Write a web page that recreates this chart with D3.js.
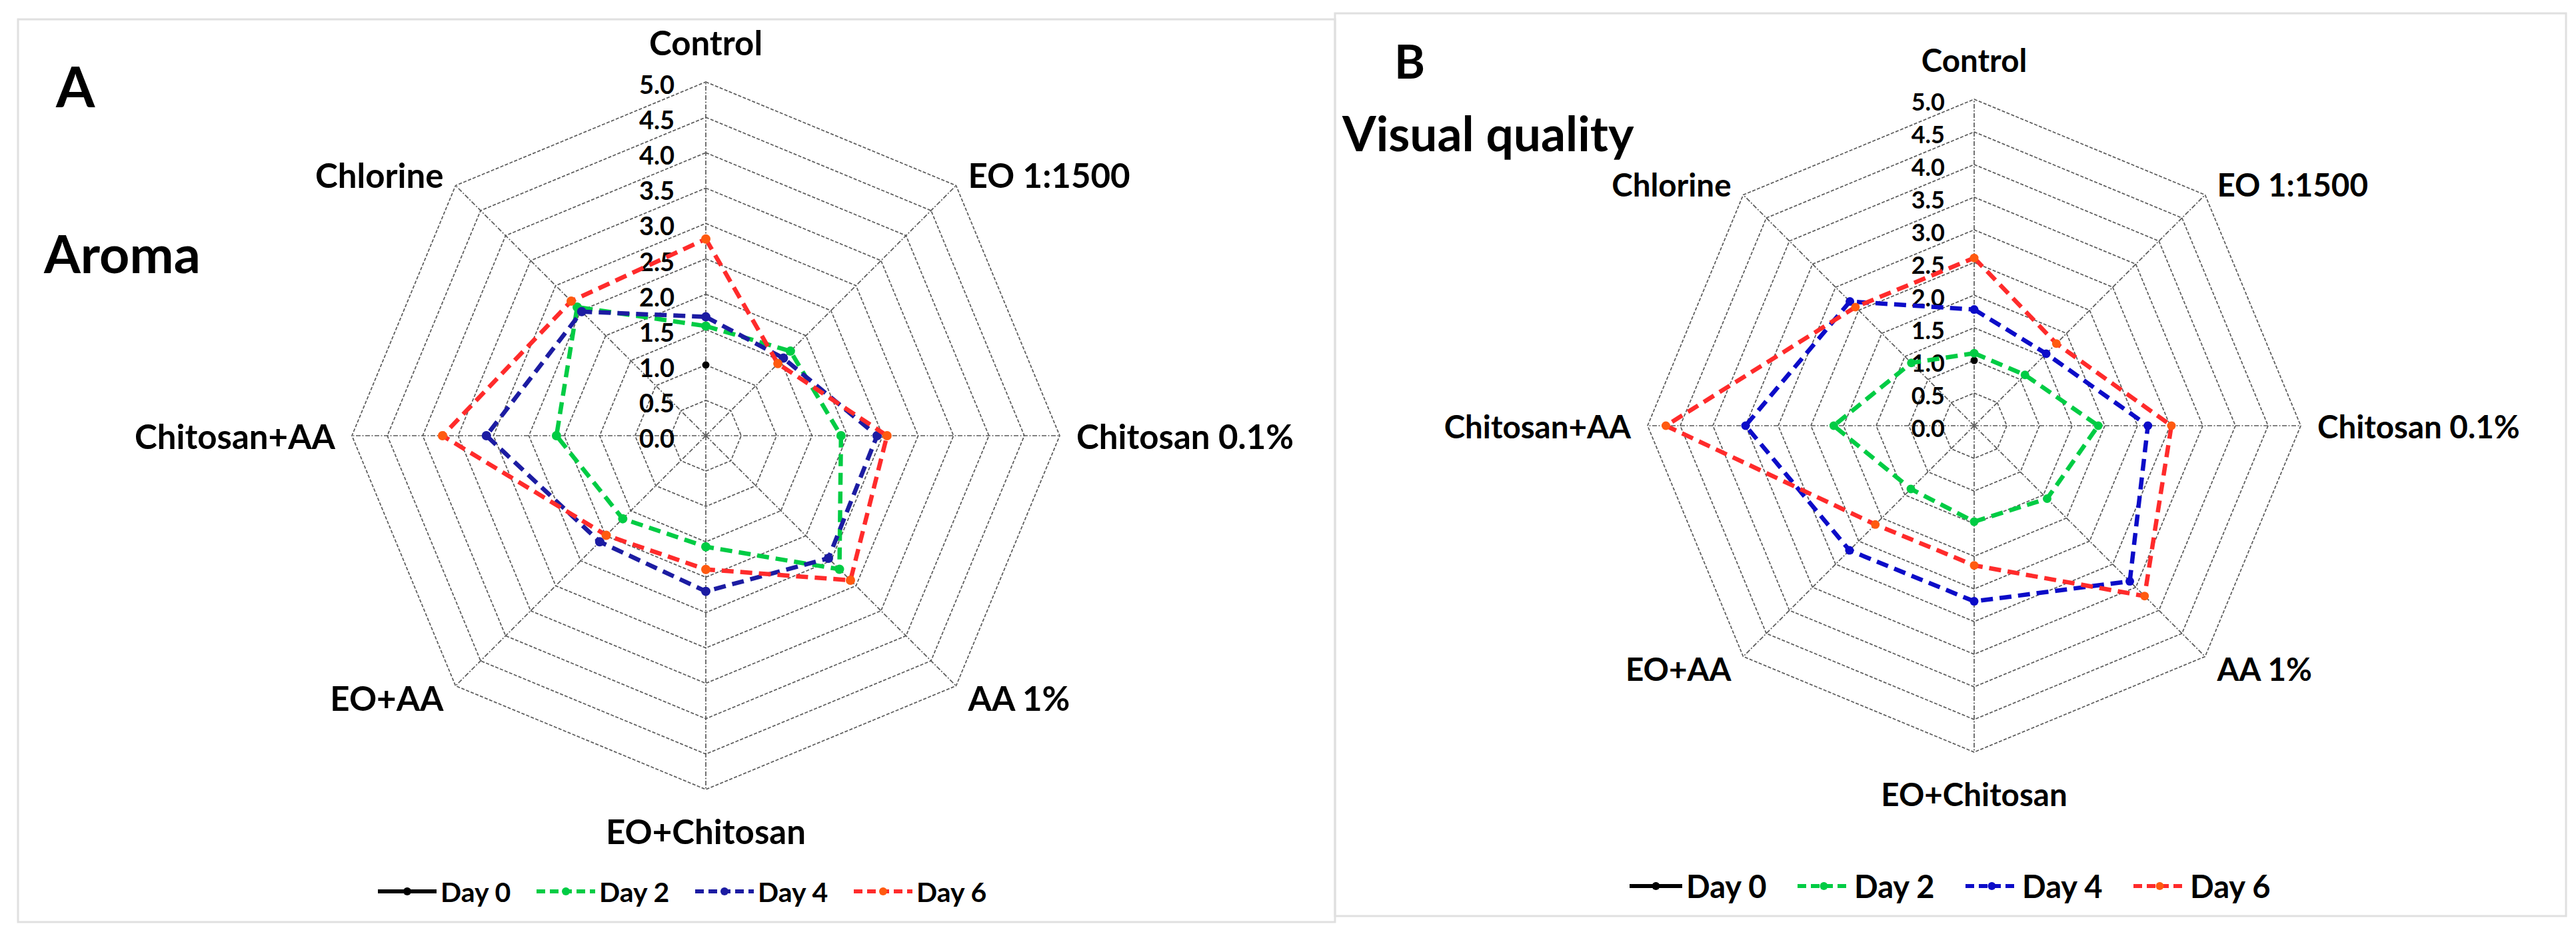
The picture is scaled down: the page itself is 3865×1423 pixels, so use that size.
<!DOCTYPE html>
<html>
<head>
<meta charset="utf-8">
<script src="https://cdn.jsdelivr.net/npm/d3@7"></script>
<style>
  html, body { margin: 0; padding: 0; background: #fff; }
  svg { display: block; }
  text { font-family: Lato, "Open Sans", "DejaVu Sans", sans-serif; fill: #000; }
</style>
</head>
<body>
<svg id="chart" width="3865" height="1423"></svg>
<script>
// ---------------- DATA ----------------
const categories = ["Control", "EO 1:1500", "Chitosan 0.1%", "AA 1%", "EO+Chitosan", "EO+AA", "Chitosan+AA", "Chlorine"];
const dayNames = ["Day 0", "Day 2", "Day 4", "Day 6"];
const tickValues = [0, 0.5, 1.0, 1.5, 2.0, 2.5, 3.0, 3.5, 4.0, 4.5, 5.0];

// Panel A - Aroma
const aromaDay0 = [1.0, null, null, null, null, null, null, null];
const aromaDay2 = [1.55, 1.69, 1.91, 2.67, 1.57, 1.66, 2.11, 2.57];
const aromaDay4 = [1.68, 1.55, 2.42, 2.45, 2.20, 2.12, 3.10, 2.48];
const aromaDay6 = [2.78, 1.44, 2.56, 2.89, 1.89, 1.99, 3.72, 2.69];

// Panel B - Visual quality
const visualDay0 = [1.0, null, null, null, null, null, null, null];
const visualDay2 = [1.11, 1.10, 1.90, 1.58, 1.47, 1.37, 2.15, 1.36];
const visualDay4 = [1.78, 1.56, 2.66, 3.37, 2.69, 2.70, 3.50, 2.69];
const visualDay6 = [2.57, 1.78, 3.02, 3.69, 2.14, 2.14, 4.72, 2.57];

// ---------------- DRAWING ----------------
const svg = d3.select("#chart");
svg.append("rect").attr("width", 3865).attr("height", 1423).attr("fill", "#fff");

const fmt = d3.format(".1f");

function drawPanel(cfg) {
  const g = svg.append("g");
  // border
  g.append("rect")
    .attr("x", cfg.box[0]).attr("y", cfg.box[1])
    .attr("width", cfg.box[2]).attr("height", cfg.box[3])
    .attr("fill", "none").attr("stroke", "#e0e0e0").attr("stroke-width", 3);

  const c = g.append("g").attr("transform", `translate(${cfg.cx},${cfg.cy})`);
  const r = d3.scaleLinear().domain([0, 5]).range([0, cfg.R]);
  const angle = d3.scaleLinear().domain([0, categories.length]).range([0, 2 * Math.PI]);

  // rings
  const ringLine = d3.lineRadial()
    .angle((d, i) => angle(i))
    .curve(d3.curveLinearClosed);
  tickValues.slice(1).forEach(v => {
    c.append("path")
      .attr("d", ringLine.radius(() => r(v))(categories))
      .attr("fill", "none").attr("stroke", "#5a5a5a")
      .attr("stroke-width", 1.7).attr("stroke-dasharray", "5 2.5");
  });
  // spokes
  categories.forEach((cat, i) => {
    const p = d3.pointRadial(angle(i), r(5));
    c.append("line").attr("x1", 0).attr("y1", 0).attr("x2", p[0]).attr("y2", p[1])
      .attr("stroke", "#5a5a5a").attr("stroke-width", 1.7).attr("stroke-dasharray", "7 2.5 2 2.5");
  });

  // tick labels
  tickValues.forEach(v => {
    c.append("text")
      .attr("x", cfg.tickDx).attr("y", -r(v) + 3)
      .attr("text-anchor", "end").attr("dominant-baseline", "central")
      .attr("font-size", cfg.tickSize).attr("font-weight", 700)
      .text(fmt(v));
  });

  // category labels
  const place = [
    { a: "middle", dx: 0, dy: -60 },
    { a: "start", dx: 18, dy: -16 },
    { a: "start", dx: 25, dy: 0 },
    { a: "start", dx: 18, dy: 18 },
    { a: "middle", dx: 0, dy: 62 },
    { a: "end", dx: -18, dy: 18 },
    { a: "end", dx: -25, dy: 0 },
    { a: "end", dx: -18, dy: -16 }
  ];
  categories.forEach((cat, i) => {
    const p = d3.pointRadial(angle(i), r(5));
    c.append("text")
      .attr("x", p[0] + place[i].dx).attr("y", p[1] + place[i].dy)
      .attr("text-anchor", place[i].a).attr("dominant-baseline", "central")
      .attr("font-size", cfg.labelSize).attr("font-weight", 700)
      .text(cat);
  });

  // series
  const seriesLine = d3.lineRadial()
    .defined(d => d != null)
    .angle((d, i) => angle(i))
    .radius(d => r(d))
    .curve(d3.curveLinearClosed);

  cfg.series.forEach((s, k) => {
    if (s.values.filter(v => v != null).length > 1) {
      c.append("path")
        .attr("d", seriesLine(s.values))
        .attr("fill", "none").attr("stroke", s.color)
        .attr("stroke-width", 6.5)
        .attr("stroke-dasharray", s.dash ? "18 10" : null)
        .attr("stroke-linejoin", "miter");
    }
    s.values.forEach((v, i) => {
      if (v == null) return;
      const p = d3.pointRadial(angle(i), r(v));
      c.append("circle").attr("cx", p[0]).attr("cy", p[1])
        .attr("r", s.mr).attr("fill", s.marker);
    });
  });

  // titles
  cfg.titles.forEach(t => {
    g.append("text").attr("x", t.x).attr("y", t.y)
      .attr("font-size", t.size).attr("font-weight", 700).text(t.text);
  });

  // legend
  const lg = g.append("g");
  cfg.series.forEach((s, k) => {
    const x0 = cfg.legend.x + k * cfg.legend.step;
    const y0 = cfg.legend.y;
    lg.append("line").attr("x1", x0).attr("x2", x0 + cfg.legend.len)
      .attr("y1", y0).attr("y2", y0)
      .attr("stroke", s.color).attr("stroke-width", 6)
      .attr("stroke-dasharray", s.dash ? "13 7" : null);
    lg.append("circle").attr("cx", x0 + cfg.legend.len / 2).attr("cy", y0)
      .attr("r", 6).attr("fill", s.marker);
    lg.append("text").attr("x", x0 + cfg.legend.len + 6).attr("y", y0)
      .attr("dominant-baseline", "central")
      .attr("font-size", cfg.legend.size).attr("font-weight", 700)
      .text(dayNames[k]);
  });
}

drawPanel({
  box: [27, 29, 1976, 1355],
  cx: 1059, cy: 654, R: 531,
  tickDx: -47, tickSize: 38, labelSize: 51,
  titles: [
    { text: "A", x: 84, y: 161, size: 84 },
    { text: "Aroma", x: 66, y: 410, size: 79 }
  ],
  series: [
    { values: aromaDay0, color: "#000000", marker: "#000000", dash: false, mr: 5.5 },
    { values: aromaDay2, color: "#00cc44", marker: "#00cc44", dash: true, mr: 7 },
    { values: aromaDay4, color: "#1c1ca2", marker: "#1c1ca2", dash: true, mr: 7 },
    { values: aromaDay6, color: "#ff2b2b", marker: "#ff5a10", dash: true, mr: 7 }
  ],
  legend: { x: 567, y: 1338, step: 238, len: 88, size: 41 }
});

drawPanel({
  box: [2003, 20, 1847, 1355],
  cx: 2962, cy: 639, R: 490,
  tickDx: -44, tickSize: 36, labelSize: 47.5,
  titles: [
    { text: "B", x: 2092, y: 118, size: 70 },
    { text: "Visual quality", x: 2014, y: 227, size: 73 }
  ],
  series: [
    { values: visualDay0, color: "#000000", marker: "#000000", dash: false, mr: 5.5 },
    { values: visualDay2, color: "#00cc44", marker: "#00cc44", dash: true, mr: 6.5 },
    { values: visualDay4, color: "#0c0cc8", marker: "#0c0cc8", dash: true, mr: 6.5 },
    { values: visualDay6, color: "#ff2b2b", marker: "#ff5a10", dash: true, mr: 6.5 }
  ],
  legend: { x: 2445, y: 1330, step: 252, len: 79, size: 47 }
});
</script>
</body>
</html>
